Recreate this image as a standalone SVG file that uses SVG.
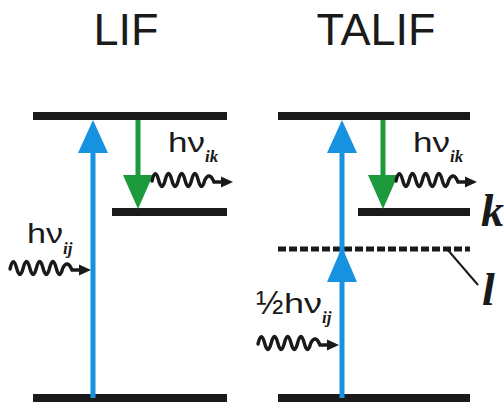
<svg xmlns="http://www.w3.org/2000/svg" xmlns:xlink="http://www.w3.org/1999/xlink" width="504" height="402" viewBox="0 0 504 402">
<style>
.bar{fill:#1a1a1a}
.title{font-family:"Liberation Sans",Arial,sans-serif;font-size:45px;fill:#1a1a1a;text-anchor:middle}
.hv{font-family:"Liberation Sans",Arial,sans-serif;font-size:28px;fill:#1a1a1a}
.half{font-family:"Liberation Sans",Arial,sans-serif;font-size:33px;fill:#1a1a1a}
.sub{font-family:"Liberation Serif","Times New Roman",serif;font-size:17px;font-weight:bold;font-style:italic;fill:#1a1a1a}
.lbl{font-family:"Liberation Serif","Times New Roman",serif;font-size:46px;font-weight:bold;font-style:italic;fill:#1a1a1a}
.blue{stroke:#1792e0;stroke-width:5;fill:none}
.bhead{fill:#1792e0}
.green{stroke:#1c9a3c;stroke-width:5;fill:none}
.ghead{fill:#1c9a3c}
.wave{stroke:#1a1a1a;stroke-width:3.4;fill:none;stroke-linecap:round}
</style>
<defs>
<g id="photon">
<path class="wave" d="M0,1 Q3.3,-13 6.6,0 T13.2,0 T19.8,0 T26.4,0 T33,0 T39.6,0 T46.2,0 T52.8,0 Q57.5,-9 62,2 L71,2"/>
<polygon points="81,2 69,-3.5 69,7.5" fill="#1a1a1a"/>
</g>
</defs>
<text class="title" x="126" y="45">LIF</text>
<text class="title" x="376" y="45">TALIF</text>
<g id="lif-upper"><rect class="bar" x="33" y="112" width="194" height="8"/></g>
<g id="lif-k"><rect class="bar" x="112" y="208" width="115" height="8"/></g>
<g id="lif-lower"><rect class="bar" x="33" y="394" width="194" height="8"/></g>
<g id="talif-upper"><rect class="bar" x="278" y="112" width="192" height="8"/></g>
<g id="talif-k"><rect class="bar" x="358" y="208" width="112" height="8"/><text class="lbl" x="481" y="226">k</text></g>
<g id="talif-l"><line x1="278" y1="249" x2="470" y2="249" stroke="#1a1a1a" stroke-width="5" stroke-dasharray="8 3"/><line x1="447" y1="249" x2="478" y2="285" stroke="#1a1a1a" stroke-width="2"/><text class="lbl" x="482" y="305">l</text></g>
<g id="talif-lower"><rect class="bar" x="278" y="394" width="192" height="8"/></g>
<g id="connectors">
<line class="blue" x1="93" y1="398" x2="93" y2="150"/>
<polygon class="bhead" points="93,120 78,153 108,153"/>
<line class="green" x1="138" y1="120" x2="138" y2="180"/>
<polygon class="ghead" points="138,209 123,175 153,175"/>
<line class="blue" x1="342" y1="398" x2="342" y2="150"/>
<polygon class="bhead" points="342,120 327,153 357,153"/>
<polygon class="bhead" points="342,247 327,282 357,282"/>
<line class="green" x1="383" y1="120" x2="383" y2="180"/>
<polygon class="ghead" points="383,209 368,175 398,175"/>
<use xlink:href="#photon" x="152" y="180"/>
<use xlink:href="#photon" x="10" y="268"/>
<use xlink:href="#photon" x="396" y="180"/>
<use xlink:href="#photon" x="258" y="343"/>
</g>
<g id="labels">
<text class="hv" x="168" y="152" textLength="37" lengthAdjust="spacingAndGlyphs">hν</text><text class="sub" x="205" y="162">ik</text>
<text class="hv" x="27" y="243" textLength="36" lengthAdjust="spacingAndGlyphs">hν</text><text class="sub" x="63" y="254">ij</text>
<text class="hv" x="413" y="152" textLength="37" lengthAdjust="spacingAndGlyphs">hν</text><text class="sub" x="450" y="162">ik</text>
<text class="half" x="256" y="314">½</text><text class="hv" x="284" y="313" textLength="38" lengthAdjust="spacingAndGlyphs">hν</text><text class="sub" x="322" y="323">ij</text>
</g>
</svg>
